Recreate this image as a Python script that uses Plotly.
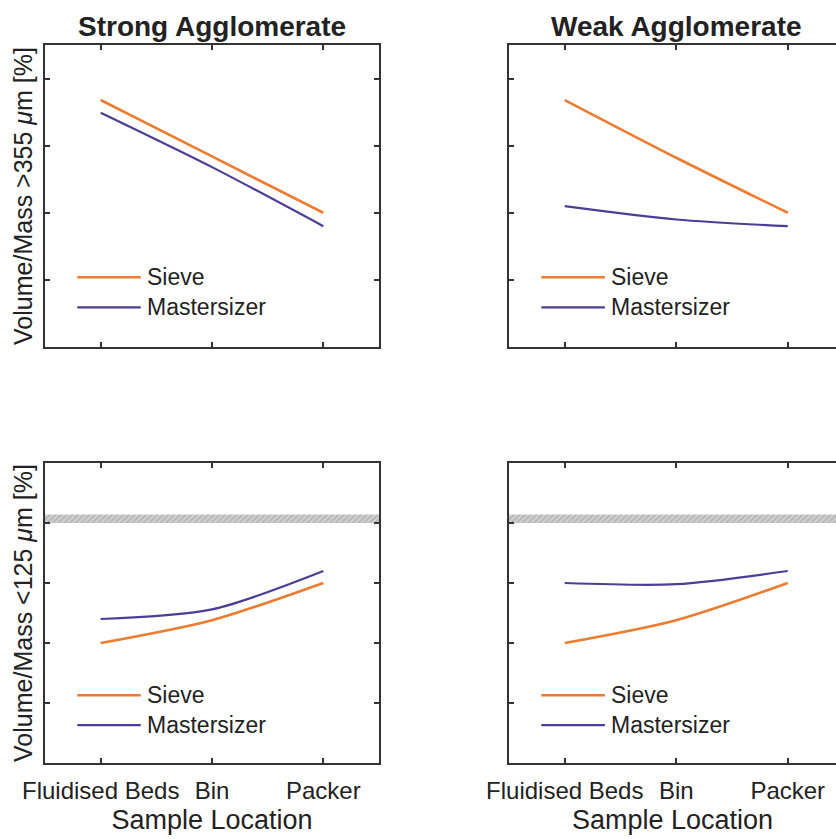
import plotly.graph_objects as go

# ---------------- data ----------------
locations = ["Fluidised Beds", "Bin", "Packer"]
x_pos = [1, 2, 3]

strong_coarse_sieve = [3.68, 2.84, 2.00]
strong_coarse_master = [3.49, 2.68, 1.80]
weak_coarse_sieve = [3.68, 2.82, 2.00]
weak_coarse_master = [2.10, 1.90, 1.80]

strong_fine_sieve = [2.00, 2.38, 3.00]
strong_fine_master = [2.40, 2.56, 3.20]
weak_fine_sieve = [2.00, 2.38, 3.00]
weak_fine_master = [3.00, 2.98, 3.20]

band_limits = [4.0, 4.14]          # hatched reference band (bottom panels)
y_ticks_top = [1, 2, 3, 4]
y_ticks_bottom = [1, 2, 3, 4]

titles = ["Strong Agglomerate", "Weak Agglomerate"]
ylabels = ["Volume/Mass &gt;355 <i>μ</i>m [%]", "Volume/Mass &lt;125 <i>μ</i>m [%]"]
xlabel = "Sample Location"
series_names = ["Sieve", "Mastersizer"]

# ---------------- style ----------------
W, H = 836, 839
ORANGE = "#EC7C30"
PURPLE = "#4F3C96"
AXC = "#333333"
TXT = "#222222"
FONT = "Liberation Sans, Arial, sans-serif"

def fx(p):
    return p / W

def fy(p):
    return 1 - p / H

xL = [fx(45), fx(379)]
xR = [fx(509), 1.0]
yT = [fy(347), fy(45)]
yB = [fy(763), fy(463)]
xr_full = [0.5, 3.5]
xr_cut = [0.5, 0.5 + (836 - 509) / 111.5]

fig = go.Figure()

panels = [
    ("x", "y", strong_coarse_sieve, strong_coarse_master),
    ("x2", "y2", weak_coarse_sieve, weak_coarse_master),
    ("x3", "y3", strong_fine_sieve, strong_fine_master),
    ("x4", "y4", weak_fine_sieve, weak_fine_master),
]

# hatched band in bottom panels
for xa, ya in [("x3", "y3"), ("x4", "y4")]:
    fig.add_trace(go.Scatter(
        x=[0.5, 3.5, 3.5, 0.5, 0.5],
        y=[band_limits[0], band_limits[0], band_limits[1], band_limits[1], band_limits[0]],
        xaxis=xa, yaxis=ya, mode="lines", line=dict(width=0),
        fill="toself", fillcolor="#c9c9c9",
        fillpattern=dict(shape="/", bgcolor="#cfcfcf", fgcolor="#8f8f8f", size=4, solidity=0.35),
        hoverinfo="skip", showlegend=False))

for xa, ya, s, m in panels:
    fig.add_trace(go.Scatter(x=x_pos, y=s, xaxis=xa, yaxis=ya, mode="lines",
                             line=dict(color=ORANGE, width=2.6, shape="spline", smoothing=0.8),
                             name=series_names[0], showlegend=False))
    fig.add_trace(go.Scatter(x=x_pos, y=m, xaxis=xa, yaxis=ya, mode="lines",
                             line=dict(color=PURPLE, width=2.2, shape="spline", smoothing=0.8),
                             name=series_names[1], showlegend=False))

common_x = dict(showline=True, linecolor=AXC, linewidth=2.2, mirror="ticks",
                ticks="inside", ticklen=5, tickwidth=1.6, tickcolor=AXC, automargin=False,
                showgrid=False, zeroline=False, tickvals=x_pos, ticktext=locations,
                tickfont=dict(family=FONT, size=24, color=TXT))
common_y = dict(showline=True, linecolor=AXC, linewidth=2.2, automargin=False,
                ticks="inside", ticklen=5, tickwidth=1.6, tickcolor=AXC,
                showgrid=False, zeroline=False, showticklabels=False)

fig.update_layout(
    width=W, height=H, margin=dict(l=0, r=0, t=0, b=0, autoexpand=False),
    paper_bgcolor="white", plot_bgcolor="white", showlegend=False,
    font=dict(family=FONT, color=TXT),
    xaxis=dict(common_x, domain=xL, range=xr_full, anchor="y", showticklabels=False),
    xaxis2=dict(common_x, domain=xR, range=xr_cut, anchor="y2", showticklabels=False),
    xaxis3=dict(common_x, domain=xL, range=xr_full, anchor="y3", ticklabelstandoff=5,
                title=dict(text=xlabel, font=dict(family=FONT, size=27, color=TXT), standoff=7)),
    xaxis4=dict(common_x, domain=xR, range=xr_cut, anchor="y4", ticklabelstandoff=5,
                title=dict(text=xlabel, font=dict(family=FONT, size=27, color=TXT), standoff=7)),
    yaxis=dict(common_y, domain=yT, range=[0, 4.5], anchor="x", mirror="ticks", tickvals=y_ticks_top,
               title=dict(text=ylabels[0], font=dict(family=FONT, size=25, color=TXT), standoff=3)),
    yaxis2=dict(common_y, domain=yT, range=[0, 4.5], anchor="x2", mirror=False, tickvals=y_ticks_top),
    yaxis3=dict(common_y, domain=yB, range=[0, 5], anchor="x3", mirror="ticks", tickvals=y_ticks_bottom,
                title=dict(text=ylabels[1], font=dict(family=FONT, size=25, color=TXT), standoff=3)),
    yaxis4=dict(common_y, domain=yB, range=[0, 5], anchor="x4", mirror=False, tickvals=y_ticks_bottom),
)

# panel titles
for i, t in enumerate(titles):
    cx = (xL[0] + xL[1]) / 2 if i == 0 else fx((509 + 844) / 2)
    fig.add_annotation(text=f"<b>{t}</b>", x=cx, y=fy(27), xref="paper", yref="paper",
                       showarrow=False, xanchor="center", yanchor="middle",
                       font=dict(family=FONT, size=28, color=TXT))

# manual legends (in axis units)
legend_y = {"y": [1.04, 0.59], "y2": [1.04, 0.59], "y3": [1.13, 0.63], "y4": [1.13, 0.63]}
for xa, ya, _, _ in panels:
    for k, (name, col, w) in enumerate(zip(series_names, [ORANGE, PURPLE], [2.6, 2.2])):
        yy = legend_y[ya][k]
        fig.add_shape(type="line", xref=xa, yref=ya, x0=0.79, x1=1.36, y0=yy, y1=yy,
                      line=dict(color=col, width=w))
        fig.add_annotation(text=name, x=1.40, y=yy, xref=xa, yref=ya, showarrow=False,
                           xanchor="left", yanchor="middle",
                           font=dict(family=FONT, size=23, color=TXT))

fig.write_html("out.html")
